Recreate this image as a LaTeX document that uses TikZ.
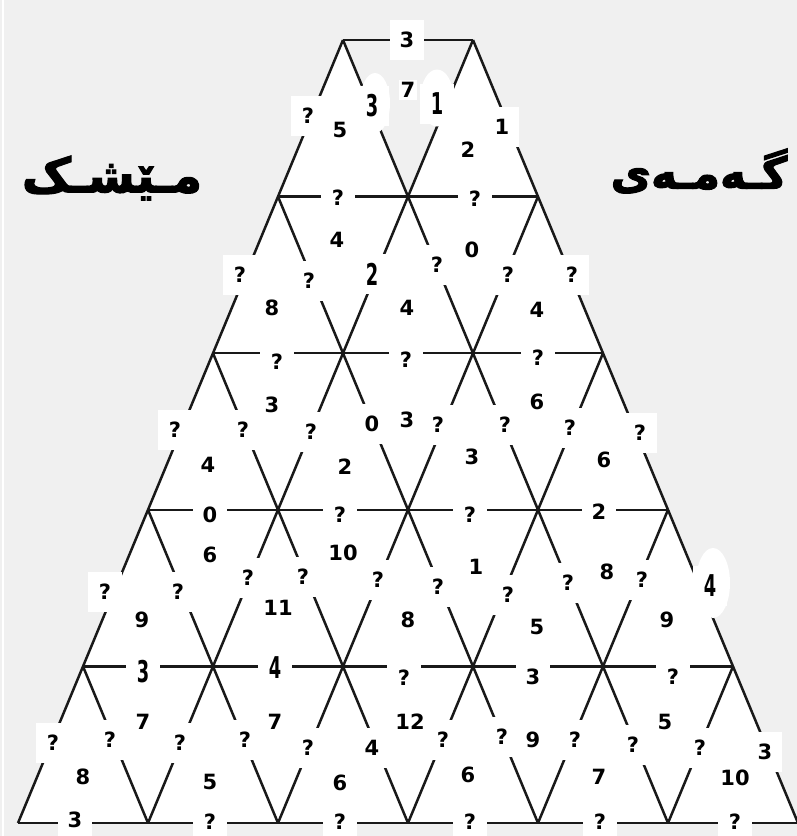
\documentclass[tikz,border=0pt]{standalone}
\usepackage{graphicx}
\usepackage{fontspec}
\setmainfont{DejaVu Sans}
\newfontfamily\kurdfont[Script=Arabic,FakeBold=2.5]{DejaVu Sans}
\newfontfamily\tallfont{DejaVu Sans Condensed}
\TeXXeTstate=1
\usetikzlibrary{shapes.geometric}
\definecolor{bggray}{RGB}{240,240,240}
\newcommand\tallnum[1]{\scalebox{0.66}[1]{\tallfont\bfseries\fontsize{30}{30}\selectfont #1}}

\begin{document}
\begin{tikzpicture}[
    x=1pt, y=-1pt,
    every node/.style={font=\fontsize{21}{21}\selectfont\bfseries},
    grid/.style={line width=2.5pt, black!90},
    edgelbl/.style={fill=white, inner sep=0pt, minimum width=34pt, minimum height=40pt},
    facelbl/.style={fill=white, inner sep=2pt},
    blob/.style={ellipse, fill=white, inner sep=0pt},
    title/.style={font=\kurdfont\bfseries\fontsize{#1}{#1}\selectfont},
]
\fill[bggray] (0,0) rectangle (797,836);
\fill[white] (1.5,0) rectangle (4,836);
\useasboundingbox (0,0) rectangle (797,836);

% lattice points, row r has r+2 points
\foreach \r in {0,...,5} {
  \pgfmathtruncatemacro\kmax{\r+1}
  \foreach \k in {0,...,\kmax}
    \coordinate (v-\r-\k) at ({343-65*\r+130*\k},{40+156.6*\r});
}
\fill[white] (v-0-0) -- (v-0-1) -- (v-5-6) -- (v-5-0) -- cycle;
\fill[bggray] (v-0-0) -- (v-0-1) -- (v-1-1) -- cycle;

% rows
\foreach \r in {0,...,5} {
  \pgfmathtruncatemacro\kmax{\r+1}
  \draw[grid] (v-\r-0) -- (v-\r-\kmax);
}
% down-left lines
\foreach \k in {0,...,5} {
  \pgfmathtruncatemacro\rs{max(0,\k-1)}
  \draw[grid] (v-\rs-\k) -- (v-5-\k);
}
% down-right lines
\foreach \j in {-4,...,1} {
  \pgfmathtruncatemacro\rs{max(0,-\j)}
  \pgfmathtruncatemacro\ks{\rs+\j}
  \pgfmathtruncatemacro\ke{5+\j}
  \draw[grid] (v-\rs-\ks) -- (v-5-\ke);
}

% white patches
\node[blob, minimum width=30pt, minimum height=60pt] (b1) at (375,103) {};
\node[blob, minimum width=33pt, minimum height=57pt] (b2) at (437,98) {};
\node[blob, minimum width=34pt, minimum height=70pt] (b3) at (713,583) {};

% labels on the rows
\foreach \x/\y/\lbl [count=\n] in {407/40/3, 338/198/?, 475/199/?,
    277/362/?, 406/360/?, 538/358/?, 210/515/0, 340/515/?, 470/515/?, 599/512/2,
    143/672/\tallnum{3}, 275/668/\tallnum{4}, 404/678/?, 533/677/3, 673/677/?,
    75/820/3, 210/822/?, 340/822/?, 470/822/?, 600/822/?, 735/822/?}
  \node[edgelbl] (h\n) at (\x,\y) {\lbl};

% labels on the slanted lines
\foreach \x/\y/\lbl [count=\n] in {308/116/?, 372/106/\tallnum{3}, 437/104/\tallnum{1}, 502/127/1,
    240/275/?, 309/281/?, 372/274/\tallnum{2}, 437/265/?, 508/275/?, 572/275/?,
    175/430/?, 243/430/?, 311/432/?, 372/424/0, 438/425/?, 505/425/?, 570/428/?, 640/433/?,
    105/592/?, 178/592/?, 248/578/?, 303/577/?, 378/580/?, 438/587/?, 508/595/?, 568/583/?, 642/580/?, 710/586/\tallnum{4},
    53/743/?, 110/740/?, 180/743/?, 245/740/?, 308/748/?, 372/748/4, 443/740/?, 502/737/?,
    575/740/?, 633/745/?, 700/748/?, 765/752/3}
  \node[edgelbl] (d\n) at (\x,\y) {\lbl};

% labels in the triangles
\foreach \x/\y/\lbl [count=\n] in {408/90/7, 340/130/5, 468/150/2,
    272/308/8, 337/240/4, 407/308/4, 472/250/0, 537/310/4,
    208/465/4, 272/405/3, 345/467/2, 407/420/3, 472/457/3, 537/402/6, 604/460/6,
    210/555/6, 343/553/10, 476/567/1, 607/572/8,
    142/620/9, 278/608/11, 408/620/8, 537/627/5, 667/620/9,
    143/722/7, 275/722/7, 410/722/12, 533/740/9, 665/722/5,
    83/777/8, 210/782/5, 340/783/6, 468/775/6, 599/777/7, 735/778/10}
  \node[facelbl] (f\n) at (\x,\y) {\lbl};

% title
\node[title=48] (word1) at (112,178) {\beginR مـێشـک\endR};
\node[title=44] (word2) at (699,171) {\beginR گـەمـەی\endR};
\end{tikzpicture}
\end{document}
